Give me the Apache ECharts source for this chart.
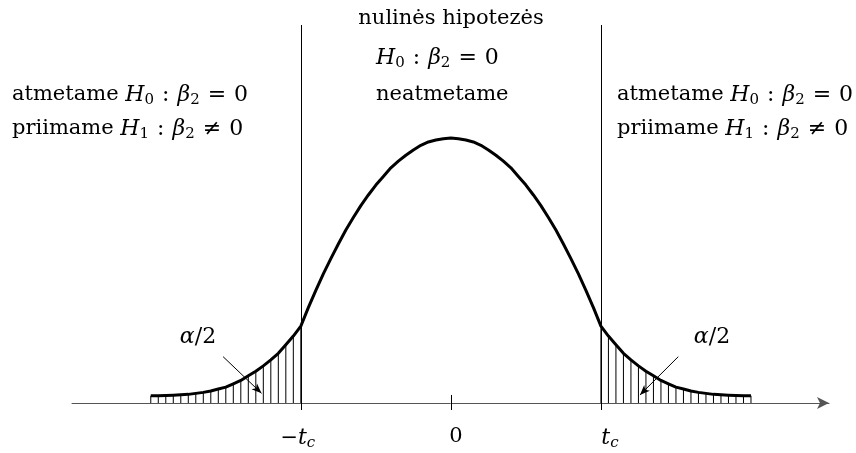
<!DOCTYPE html>
<html>
<head>
<meta charset="utf-8">
<script src="https://cdn.jsdelivr.net/npm/echarts@6/dist/echarts.min.js"></script>
<style>
  html, body { margin: 0; padding: 0; background: #ffffff; }
  #chart { width: 856px; height: 453px; }
</style>
</head>
<body>
<div id="chart"></div>
<script>
// Sampling points of the test statistic t
const tPoints = [
  -4.0, -3.9, -3.8, -3.7, -3.6, -3.5, -3.4, -3.3, -3.2, -3.1,
  -3.0, -2.9, -2.8, -2.7, -2.6, -2.5, -2.4, -2.3, -2.2, -2.1,
  -2.0, -1.9, -1.8, -1.7, -1.6, -1.5, -1.4, -1.3, -1.2, -1.1,
  -1.0, -0.9, -0.8, -0.7, -0.6, -0.5, -0.4, -0.3, -0.2, -0.1,
   0.0,
   0.1,  0.2,  0.3,  0.4,  0.5,  0.6,  0.7,  0.8,  0.9,  1.0,
   1.1,  1.2,  1.3,  1.4,  1.5,  1.6,  1.7,  1.8,  1.9,  2.0,
   2.1,  2.2,  2.3,  2.4,  2.5,  2.6,  2.7,  2.8,  2.9,  3.0,
   3.1,  3.2,  3.3,  3.4,  3.5,  3.6,  3.7,  3.8,  3.9,  4.0
];

// Density of the distribution at each sampling point
const density = [
  0.0109, 0.0110, 0.0113, 0.0118, 0.0124, 0.0130, 0.0145, 0.0160, 0.0180, 0.0210,
  0.0240, 0.0290, 0.0340, 0.0410, 0.0480, 0.0560, 0.0650, 0.0750, 0.0880, 0.1010,
  0.116, 0.144, 0.170, 0.195, 0.218, 0.240, 0.261, 0.280, 0.298, 0.314,
  0.329, 0.342, 0.355, 0.365, 0.374, 0.382, 0.389, 0.394, 0.397, 0.399,
  0.400,
  0.399, 0.397, 0.394, 0.389, 0.382, 0.374, 0.365, 0.355, 0.342, 0.329,
  0.314, 0.298, 0.280, 0.261, 0.240, 0.218, 0.195, 0.170, 0.144, 0.116,
  0.1010, 0.0880, 0.0750, 0.0650, 0.0560, 0.0480, 0.0410, 0.0340, 0.0290, 0.0240,
  0.0210, 0.0180, 0.0160, 0.0145, 0.0130, 0.0124, 0.0118, 0.0113, 0.0110, 0.0109
];

// Critical value t_c
const tCritical = 2;

// Axis tick positions and their labels
const tickValues = [-2, 0, 2];
const tickLabels = ['{rm|\u2212}{it|t}{subIR|c}', '{rmL|0}', '{itL|t}{subI|c}'];

// Region descriptions
const rejectLines = [
  'atmetame {it|H}{sub|0}{col|:}{it|\u03b2}{sub|2}{rel|=}{num|0}',
  'priimame {it|H}{sub|1}{col|:}{it|\u03b2}{sub|2}{rel|\u2260}{num|0}'
];
const acceptLines = [
  'nulin\u0117s hipotez\u0117s',
  '{it|H}{sub|0}{col|:}{it|\u03b2}{sub|2}{rel|=}{num|0}',
  'neatmetame'
];
const tailLabel = '{it|\u03b1}{num|/2}';

const SERIF = '"DejaVu Serif", "Liberation Serif", serif';
const base = { fontFamily: SERIF, fontSize: 21, fill: '#000', color: '#000' };
const richStyles = {
  rm: Object.assign({}, base),
  num: Object.assign({}, base, { fontSize: 22 }),
  rmL: Object.assign({}, base, { padding: [0, 0, 0, 10] }),
  col: Object.assign({}, base, { fontSize: 22, padding: [0, 8, 0, 8] }),
  rel: Object.assign({}, base, { fontSize: 22, padding: [0, 8, 0, 8] }),
  it: Object.assign({}, base, { fontSize: 22, fontStyle: 'italic' }),
  itL: Object.assign({}, base, { fontSize: 22, fontStyle: 'italic', padding: [0, 0, 0, 18] }),
  sub: Object.assign({}, base, { fontSize: 15, padding: [10, 0, 0, 0] }),
  subI: Object.assign({}, base, { fontSize: 15, fontStyle: 'italic', padding: [10, 0, 0, 0] }),
  subIR: Object.assign({}, base, { fontSize: 15, fontStyle: 'italic', padding: [10, 6, 0, 0] })
};

const curve = tPoints.map((t, i) => [t, density[i]]);
const tails = curve.filter(p => Math.abs(p[0]) >= tCritical - 1e-9);

function textItem(str, x, y, align) {
  return {
    type: 'text',
    x: x, y: y,
    silent: true,
    style: {
      text: str,
      rich: richStyles,
      fontFamily: SERIF,
      fontSize: 21,
      fill: '#000',
      textAlign: align,
      textVerticalAlign: 'middle'
    }
  };
}

const chart = echarts.init(document.getElementById('chart'), null, { renderer: 'canvas' });

const option = {
  animation: false,
  backgroundColor: '#ffffff',
  grid: { left: 72, right: 27, top: 25, bottom: 43, outerBoundsMode: 'none', containLabel: false },
  xAxis: {
    type: 'value',
    min: -5.05,
    max: 5.04,
    splitLine: { show: false },
    axisTick: { show: false },
    axisLine: {
      onZero: true,
      symbol: ['none', 'arrow'],
      symbolSize: [9, 12],
      lineStyle: { color: '#555', width: 1 }
    },
    axisLabel: {
      customValues: tickValues,
      formatter: v => tickLabels[tickValues.indexOf(v)] || '',
      margin: 16,
      rich: richStyles,
      color: '#000'
    }
  },
  yAxis: {
    type: 'value',
    min: -0.0106,
    max: 0.5706,
    show: false
  },
  series: [
    {
      // vertical hatching under the rejection tails
      type: 'bar',
      data: tails,
      barWidth: 1,
      itemStyle: { color: '#000' },
      silent: true,
      z: 1
    },
    {
      type: 'line',
      data: curve,
      showSymbol: false,
      smooth: false,
      lineStyle: { color: '#000', width: 3, join: 'round' },
      silent: true,
      z: 3,
      markLine: {
        silent: true,
        symbol: 'none',
        label: { show: false },
        lineStyle: { color: '#000', width: 1, type: 'solid' },
        data: [
          { xAxis: -tCritical },
          { xAxis: tCritical },
          [{ coord: [0, 0.0121] }, { coord: [0, -0.0106] }],
          [{ coord: [-3.036, 0.0699], symbol: 'none' }, { coord: [-2.524, 0.0146], symbol: 'arrow', symbolSize: [6, 10] }],
          [{ coord: [3.031, 0.0699], symbol: 'none' }, { coord: [2.52, 0.0121], symbol: 'arrow', symbolSize: [6, 10] }]
        ]
      }
    }
  ],
  graphic: [
    textItem(rejectLines[0], 12, 95, 'left'),
    textItem(rejectLines[1], 12, 129, 'left'),
    textItem(rejectLines[0], 617, 95, 'left'),
    textItem(rejectLines[1], 617, 129, 'left'),
    textItem(acceptLines[0], 451, 19, 'center'),
    textItem(acceptLines[1], 376, 58, 'left'),
    textItem(acceptLines[2], 376, 95, 'left'),
    textItem(tailLabel, 198, 337, 'center'),
    textItem(tailLabel, 712, 337, 'center')
  ]
};

chart.setOption(option);
</script>
</body>
</html>
